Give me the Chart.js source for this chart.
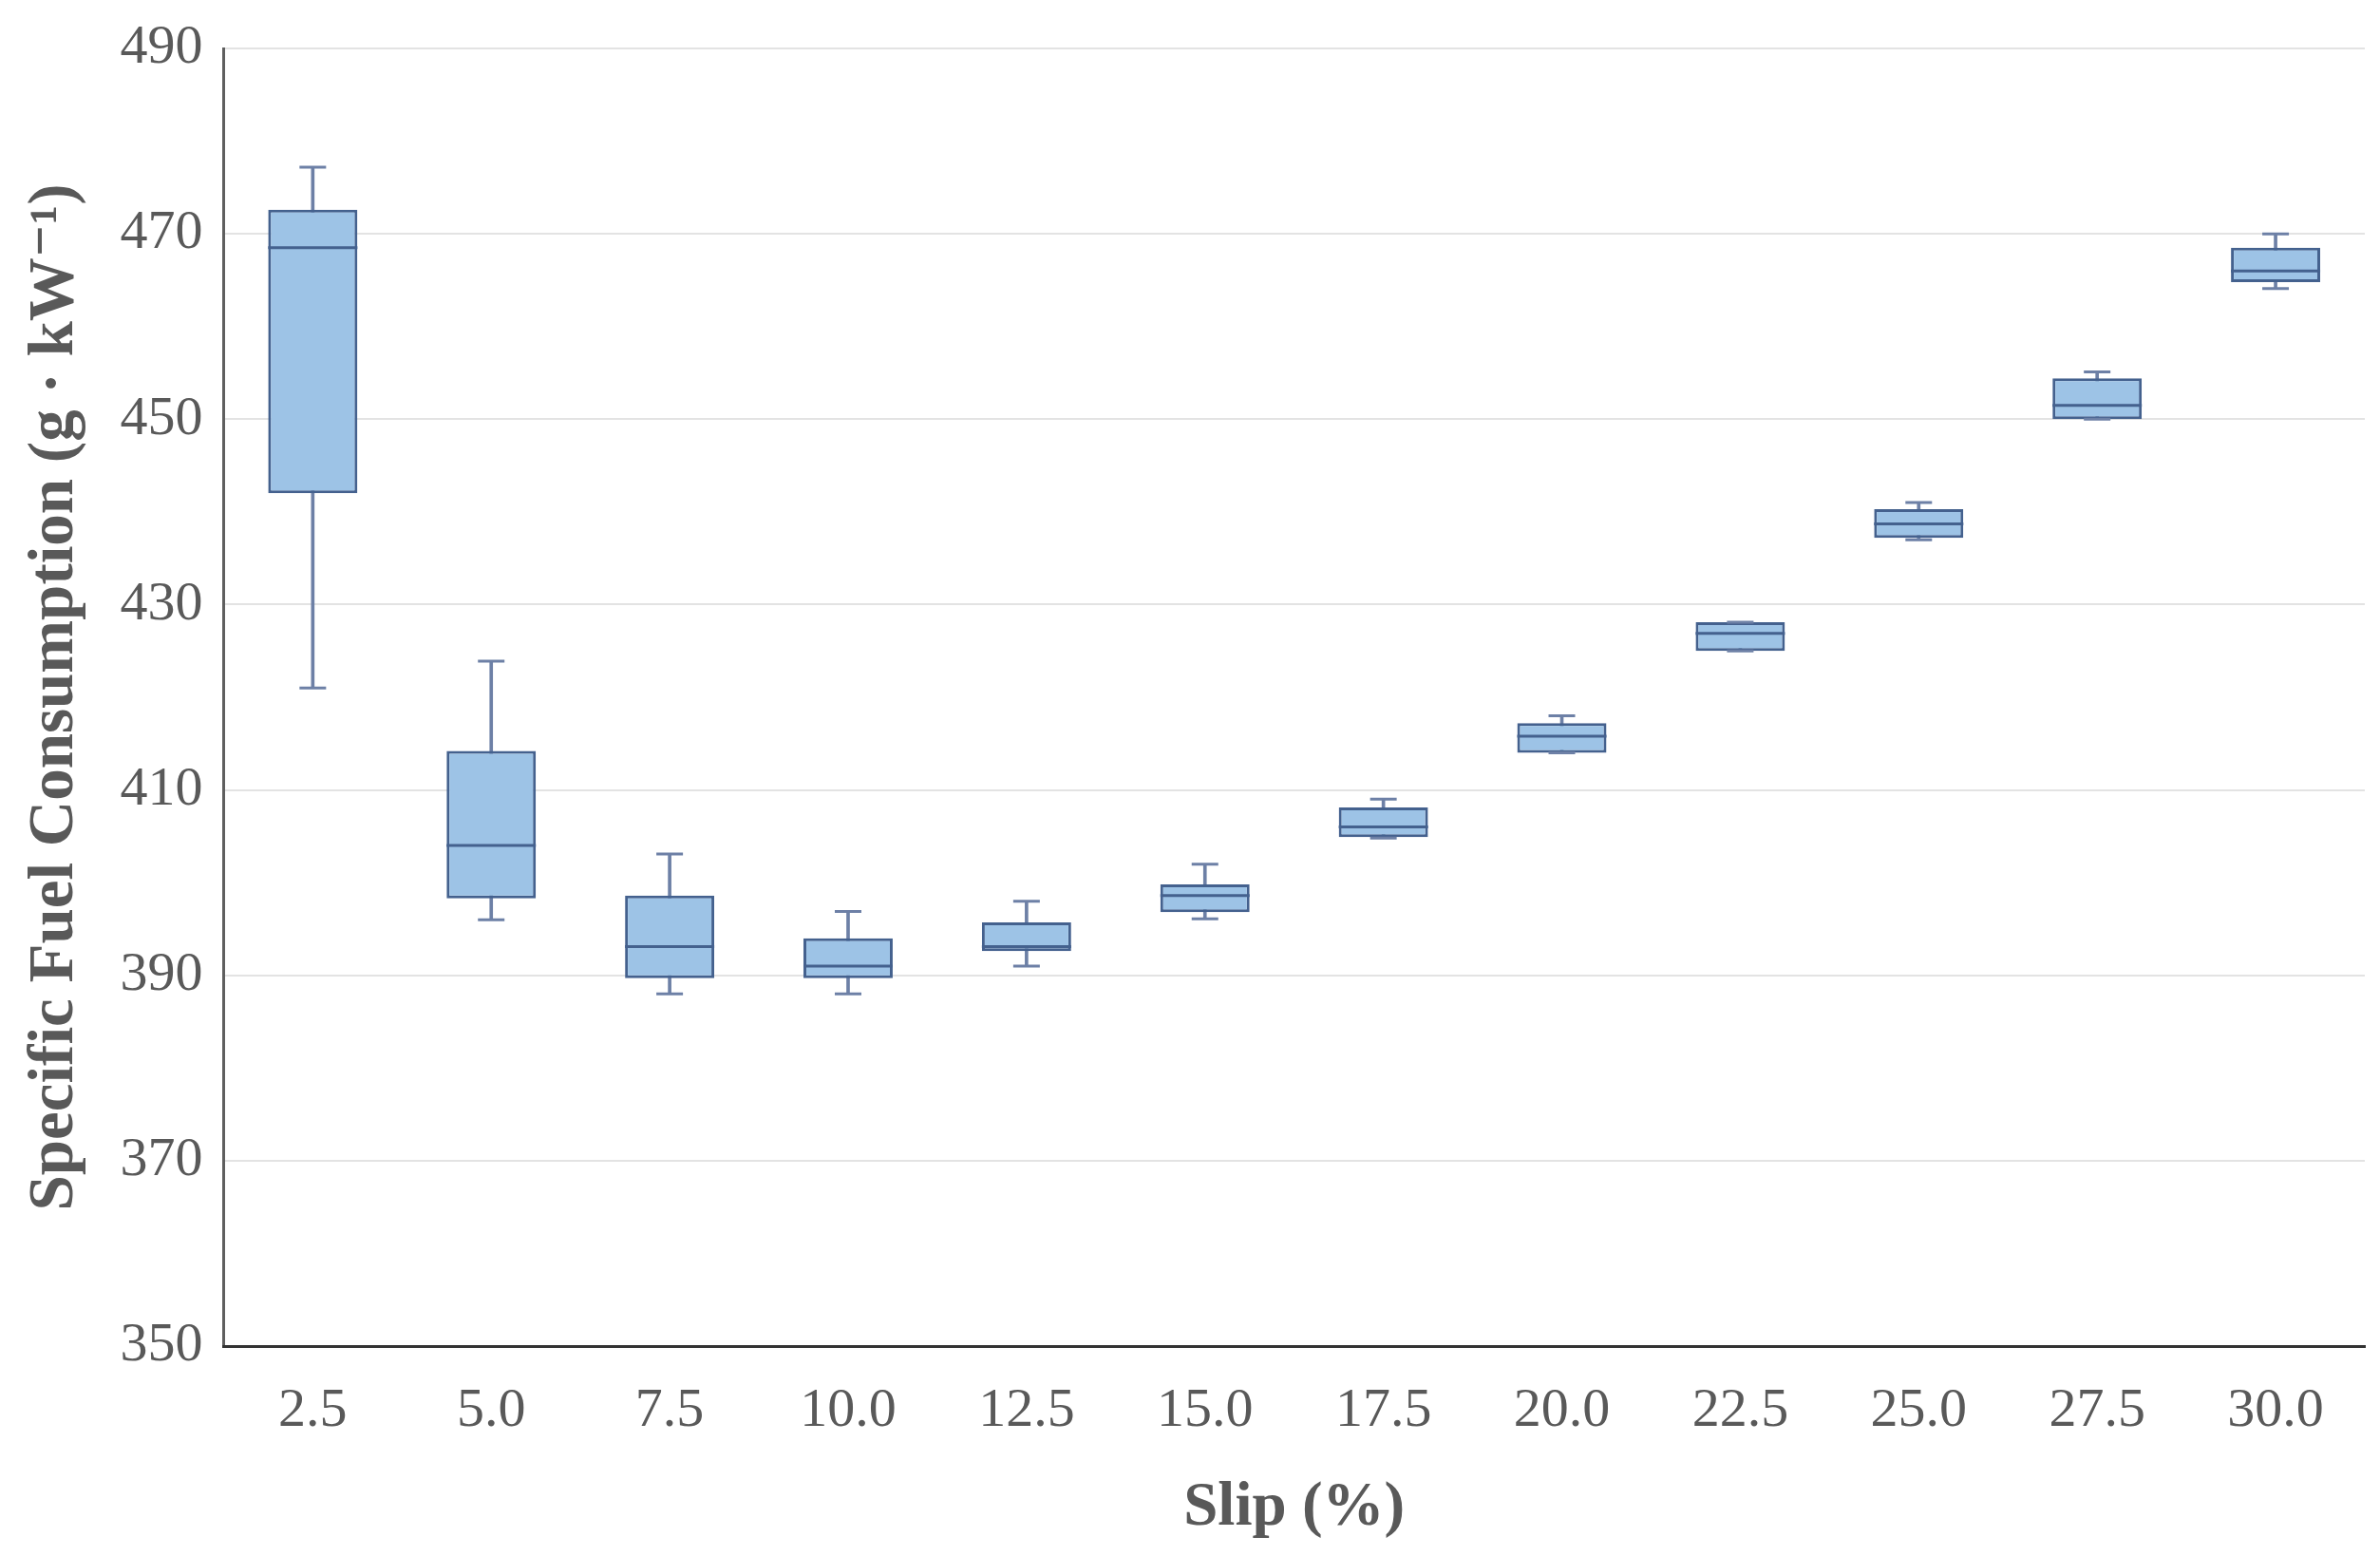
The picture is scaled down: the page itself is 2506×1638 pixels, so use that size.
<!DOCTYPE html>
<html>
<head>
<meta charset="utf-8">
<script src="https://cdn.jsdelivr.net/npm/chart.js@4.4.1/dist/chart.umd.min.js"></script>
<style>
  html, body { margin: 0; padding: 0; background: #fff; overflow: hidden; }
  /* a bit wider than the window: the x axis keeps ~34px spare on the right for the last label */
  #wrap { width: 2540px; height: 1638px; }
</style>
</head>
<body>
<div id="wrap"><canvas id="graph1"></canvas></div>
<script>
const slip = ['2.5', '5.0', '7.5', '10.0', '12.5', '15.0', '17.5', '20.0', '22.5', '25.0', '27.5', '30.0'];
const whiskerMin = [421.0, 396.0, 388.0, 388.0, 391.0, 396.1, 404.8, 414.0, 425.0, 437.0, 450.0, 464.1];
const q1 = [442.0, 398.3, 389.7, 389.7, 392.6, 396.8, 404.9, 414.0, 425.0, 437.2, 450.0, 464.8];
const median = [468.5, 404.0, 393.1, 391.0, 393.1, 398.6, 406.0, 415.8, 426.9, 438.7, 451.5, 466.0];
const q3 = [472.6, 414.2, 398.6, 394.0, 395.7, 399.8, 408.1, 417.2, 428.1, 440.3, 454.4, 468.5];
const whiskerMax = [477.2, 423.9, 403.1, 396.9, 398.0, 402.0, 409.0, 418.0, 428.1, 441.0, 455.1, 470.0];
const yTicks = [350, 370, 390, 410, 430, 450, 470, 490];

const boxFill = '#9dc3e6';
const boxEdge = '#44618e';
const whiskerColor = '#6d80a6';
const textColor = '#595959';
const serif = "'Liberation Serif', 'DejaVu Serif', serif";

const markLine = (label, values, radius, color, width) => ({
    type: 'line',
    label: label,
    data: values,
    showLine: false,
    pointStyle: 'line',
    pointRadius: radius,
    pointHoverRadius: radius,
    borderColor: color,
    pointBorderColor: color,
    pointBorderWidth: width,
    borderWidth: width,
    order: 0
});

const config = {
    type: 'bar',
    data: {
        labels: slip,
        datasets: [
            {
                label: 'Whisker',
                data: slip.map((_, i) => [whiskerMin[i], whiskerMax[i]]),
                backgroundColor: whiskerColor,
                borderWidth: 0,
                barThickness: 3,
                grouped: false,
                order: 3
            },
            {
                label: 'Box',
                data: slip.map((_, i) => [q1[i], q3[i]]),
                backgroundColor: boxFill,
                borderColor: boxEdge,
                borderWidth: 3,
                borderSkipped: false,
                barPercentage: 0.5,
                categoryPercentage: 1.0,
                grouped: false,
                order: 2
            },
            markLine('Median', median, 47, boxEdge, 3),
            markLine('Max', whiskerMax, 14, whiskerColor, 3),
            markLine('Min', whiskerMin, 14, whiskerColor, 3)
        ]
    },
    options: {
        responsive: true,
        maintainAspectRatio: false,
        devicePixelRatio: 1,
        animation: false,
        layout: {
            padding: { top: 51, right: 16, bottom: 17, left: 18 }
        },
        scales: {
            y: {
                min: 350,
                max: 490,
                afterBuildTicks: axis => { axis.ticks = yTicks.map(v => ({ value: v })); },
                afterFit: axis => { axis.paddingTop = 0; axis.paddingBottom = 0; },
                grid: {
                    color: '#e3e3e3',
                    lineWidth: 2,
                    drawTicks: false
                },
                border: { color: '#5f5f5f', width: 3 },
                ticks: {
                    color: textColor,
                    padding: 22,
                    font: { family: serif, size: 58 }
                },
                title: {
                    display: true,
                    text: 'Specific Fuel Consumption (g · kW\u207B\u00B9)',
                    color: textColor,
                    padding: { top: 0, bottom: 6 },
                    font: { family: serif, size: 67, weight: 'bold' }
                }
            },
            x: {
                grid: { display: false, drawTicks: false },
                border: { color: '#333333', width: 3 },
                ticks: {
                    color: textColor,
                    padding: 40,
                    font: { family: serif, size: 58, lineHeight: 1.0 }
                },
                title: {
                    display: true,
                    text: 'Slip (%)',
                    color: textColor,
                    padding: { top: 1, bottom: 0 },
                    font: { family: serif, size: 65, weight: 'bold', lineHeight: 1.0 }
                }
            }
        },
        plugins: {
            legend: { display: false },
            tooltip: { enabled: false }
        }
    }
};

const myChart = new Chart(
    document.getElementById('graph1'),
    config
);
</script>
</body>
</html>
